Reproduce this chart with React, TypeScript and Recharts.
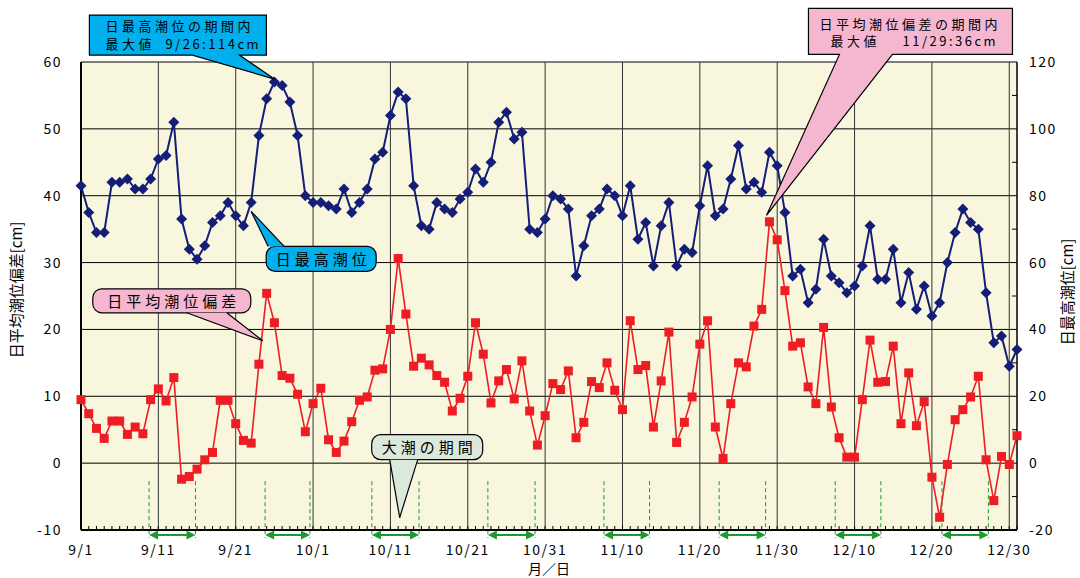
import { LineChart, Line, XAxis, YAxis, CartesianGrid, ReferenceLine, ReferenceDot } from "recharts";

// 日最高潮位 [cm] (right axis), 9/1 .. 12/31
const maxTide = [
  83, 75, 69, 69, 84, 84, 85, 82, 82, 85, 91, 92, 102, 73, 64, 61, 65, 72, 74, 78, 74, 71, 78, 98, 109, 114, 113, 108, 98, 80,
  78, 78, 77, 76, 82, 75, 78, 82, 91, 93, 104, 111, 109, 83, 71, 70, 78, 76, 75, 79, 81, 88, 84, 90, 102, 105, 97, 99, 70, 69,
  73, 80, 79, 76, 56, 65, 74, 76, 82, 80, 74, 83, 67, 72, 59, 71, 78, 59, 64, 63, 77, 89, 74, 76, 85, 95, 82, 84, 81, 93,
  89, 75, 56, 58, 48, 52, 67, 56, 54, 51, 53, 59, 71, 55, 55, 64, 48, 57, 46, 53, 44, 48, 60, 69, 76, 72, 70, 51, 36, 38, 29, 34,
];

// 日平均潮位偏差 [cm] (left axis)
const meanAnomaly = [
  9.5, 7.4, 5.2, 3.7, 6.3, 6.3, 4.3, 5.4, 4.4, 9.5, 11.1, 9.3, 12.8, -2.4, -2.0, -0.9, 0.5, 1.6, 9.4, 9.4, 5.9, 3.4, 3.0, 14.8, 25.4, 21.0, 13.1, 12.7, 10.3, 4.7,
  8.9, 11.2, 3.5, 1.6, 3.3, 6.2, 9.4, 9.9, 13.9, 14.1, 20.0, 30.6, 22.3, 14.5, 15.7, 14.7, 13.1, 12.1, 7.8, 9.7, 13.0, 21.0, 16.3, 9.0, 12.3, 14.0, 9.6, 15.3, 7.8, 2.7,
  7.1, 11.9, 11.0, 13.8, 3.8, 6.1, 12.2, 11.3, 15.0, 10.9, 8.0, 21.3, 14.0, 14.6, 5.4, 12.3, 19.6, 3.1, 6.1, 9.9, 17.8, 21.3, 5.4, 0.7, 8.9, 15.0, 14.4, 20.5, 23.0, 36.1,
  33.4, 25.8, 17.5, 18.0, 11.4, 8.9, 20.3, 8.4, 3.8, 0.9, 0.9, 9.5, 18.4, 12.1, 12.2, 17.5, 5.9, 13.5, 5.6, 9.2, -2.1, -8.1, -0.2, 6.5, 8.0, 9.9, 13.0, 0.5, -5.6, 1.0, -0.2, 4.1,
];

const dateLabels = ["9/1", "9/11", "9/21", "10/1", "10/11", "10/21", "10/31", "11/10", "11/20", "11/30", "12/10", "12/20", "12/30"];

// 大潮の期間 (start, end in days from 9/1)
const springTides = [
  [8.8, 14.8], [23.8, 29.6], [37.6, 43.7], [52.6, 58.7],
  [67.6, 73.5], [82.5, 88.5], [97.5, 103.4], [111.3, 117.3],
];

const leftTicks = [-10, 0, 10, 20, 30, 40, 50, 60];
const rightTicks = [-20, -10, 0, 10, 20, 30, 40, 50, 60, 70, 80, 90, 100, 110, 120];

const rows = maxTide.map((v, i) => ({ day: i, maxTide: v, anomaly: meanAnomaly[i] }));
const dayTicks = rows.map((r) => r.day);

const FONT = "'Noto Sans CJK JP', 'Noto Sans', sans-serif";
const NAVY = "#141d78";
const RED = "#ee1d23";
const GREEN = "#1c9a2e";

const Diamond = ({ cx, cy }: any) => (
  <polygon points={`${cx},${cy - 5.5} ${cx + 5.5},${cy} ${cx},${cy + 5.5} ${cx - 5.5},${cy}`} fill={NAVY} />
);

const Square = ({ cx, cy }: any) => <rect x={cx - 4.5} y={cy - 4.5} width={9} height={9} fill={RED} />;

const DayTick = ({ x, y, payload }: any) => {
  const d = payload.value;
  const label = d % 10 === 0 ? dateLabels[d / 10] : null;
  return (
    <g>
      <line x1={x} x2={x} y1={y} y2={y - 4} stroke="#000" />
      {label && (
        <text x={x} y={y + 25} textAnchor="middle" fontSize={14} letterSpacing={1.5} fontFamily={FONT} fill="#000">
          {label}
        </text>
      )}
    </g>
  );
};

const RightTick = ({ x, y, payload }: any) => {
  const v = payload.value;
  if (v % 20 !== 0) return <line x1={x - 5} x2={x} y1={y} y2={y} stroke="#000" />;
  return (
    <text x={x + 12} y={y + 5} fontSize={14} letterSpacing={1.5} fontFamily={FONT} fill="#000">
      {v}
    </text>
  );
};

const TideArrow = ({ x1, x2, y1 }: any) => (
  <g>
    <line x1={x1 + 6} x2={x2 - 6} y1={y1} y2={y1} stroke={GREEN} strokeWidth={2} />
    <polygon points={`${x1},${y1} ${x1 + 9},${y1 - 4.5} ${x1 + 9},${y1 + 4.5}`} fill={GREEN} />
    <polygon points={`${x2},${y1} ${x2 - 9},${y1 - 4.5} ${x2 - 9},${y1 + 4.5}`} fill={GREEN} />
  </g>
);

const textStyle = { fontFamily: FONT, fontSize: 13, letterSpacing: 3.5, fill: "#000" };

// top-left: 日最高潮位の期間内最大値 (tip slightly above point)
const MaxTideCallout = ({ cx, cy }: any) => {
  const tx = cx;
  const ty = cy - 3;
  const x0 = tx - 185, x1 = tx - 8, y0 = ty - 64, y1 = ty - 24;
  return (
    <g>
      <path
        d={`M${x0},${y0} H${x1} V${y1} H${tx - 35} L${tx},${ty} L${tx - 82},${y1} H${x0} Z`}
        fill="#00b0ec"
        stroke="#000"
        strokeWidth={1.2}
      />
      <text x={x0 + 16} y={y0 + 16} {...textStyle}>日最高潮位の期間内</text>
      <text x={x0 + 16} y={y0 + 34} {...textStyle}>最大値</text>
      <text x={x0 + 76} y={y0 + 34} {...textStyle} letterSpacing={2.5}>9/26:114cm</text>
    </g>
  );
};

// top-right: 日平均潮位偏差の期間内最大値
const MaxAnomalyCallout = ({ cx, cy }: any) => {
  const tx = cx - 3;
  const ty = cy - 7;
  const x0 = tx + 42, x1 = tx + 246, y0 = ty - 207, y1 = ty - 161;
  return (
    <g>
      <path
        d={`M${x0},${y0} H${x1} V${y1} H${tx + 126} L${tx},${ty} L${tx + 73},${y1} H${x0} Z`}
        fill="#f5b6d0"
        stroke="#000"
        strokeWidth={1.2}
      />
      <text x={x0 + 11} y={y0 + 21} {...textStyle}>日平均潮位偏差の期間内</text>
      <text x={x0 + 22} y={y0 + 38} {...textStyle}>最大値</text>
      <text x={x0 + 94} y={y0 + 38} {...textStyle} letterSpacing={2.5}>11/29:36cm</text>
    </g>
  );
};

const RoundCallout = ({ tx, ty, box, base, fill, label }: any) => {
  const [x0, y0, x1, y1] = box;
  const onTop = base[2] === "top";
  const by = onTop ? ty + y0 : ty + y1;
  return (
    <g>
      <rect x={tx + x0} y={ty + y0} width={x1 - x0} height={y1 - y0} rx={9} fill={fill} stroke="#000" strokeWidth={1.2} />
      <polygon points={`${tx + base[0]},${by} ${tx},${ty} ${tx + base[1]},${by}`} fill={fill} />
      <line x1={tx + base[0]} y1={by} x2={tx} y2={ty} stroke="#000" strokeWidth={1.2} />
      <line x1={tx + base[1]} y1={by} x2={tx} y2={ty} stroke="#000" strokeWidth={1.2} />
      <text
        x={tx + (x0 + x1) / 2 + 2}
        y={ty + (y0 + y1) / 2 + 6}
        textAnchor="middle"
        {...textStyle}
        fontSize={15}
        letterSpacing={4}
      >
        {label}
      </text>
    </g>
  );
};

const MaxTideLabel = ({ cx, cy }: any) => (
  <RoundCallout tx={cx} ty={cy + 9} box={[15, 35, 125, 60]} base={[17, 33, "top"]} fill="#00b0ec" label="日最高潮位" />
);

const AnomalyLabel = ({ cx, cy }: any) => (
  <RoundCallout tx={cx} ty={cy} box={[-170, -52, -12, -28]} base={[-76, -36, "bottom"]} fill="#f5b6d0" label="日平均潮位偏差" />
);

const SpringLabel = ({ cx, cy }: any) => (
  <RoundCallout tx={cx} ty={cy} box={[-28, -83, 83, -58]} base={[-10, 18, "bottom"]} fill="#dbe8dc" label="大潮の期間" />
);

const App = () => {
  return (
    <div style={{ position: "absolute", left: 0, top: 0 }}>
      <LineChart width={1080} height={578} data={rows} margin={{ top: 62, right: 0, bottom: 18, left: 0 }}>
        <CartesianGrid yAxisId="left" vertical={false} stroke="#000" fill="#f8f6dc" fillOpacity={1} />
        {dateLabels.map((_, k) => (
          <ReferenceLine key={`g${k}`} yAxisId="left" x={k * 10} stroke="#333" strokeWidth={1} />
        ))}
        <XAxis
          type="number"
          dataKey="day"
          domain={[0, 121]}
          ticks={dayTicks}
          interval={0}
          height={30}
          tickSize={0}
          tickMargin={0}
          tick={<DayTick />}
          axisLine={{ stroke: "#000", strokeWidth: 2 }}
          label={{
            content: () => (
              <text x={549} y={574} textAnchor="middle" fontFamily={FONT} fontSize={14} fill="#000">
                月／日
              </text>
            ),
          }}
        />
        <YAxis
          yAxisId="left"
          domain={[-10, 60]}
          ticks={leftTicks}
          width={81}
          tickSize={0}
          tickMargin={19}
          tickLine={false}
          tick={{ fontSize: 14, fontFamily: FONT, fill: "#000", letterSpacing: 1.5 }}
          axisLine={{ stroke: "#000", strokeWidth: 2 }}
          label={{
            content: () => (
              <text x={22} y={290} transform="rotate(-90 22 290)" textAnchor="middle" fontFamily={FONT} fontSize={15} fill="#000">
                日平均潮位偏差[cm]
              </text>
            ),
          }}
        />
        <YAxis
          yAxisId="right"
          orientation="right"
          domain={[-20, 120]}
          ticks={rightTicks}
          width={63}
          tickSize={0}
          tickMargin={0}
          tickLine={false}
          tick={<RightTick />}
          axisLine={{ stroke: "#000", strokeWidth: 1.5 }}
          label={{
            content: () => (
              <text x={1073} y={292} transform="rotate(-90 1073 292)" textAnchor="middle" fontFamily={FONT} fontSize={15} fill="#000">
                日最高潮位[cm]
              </text>
            ),
          }}
        />
        {springTides.map(([s, e], k) => (
          <ReferenceLine
            key={`ds${k}`}
            yAxisId="left"
            segment={[{ x: s, y: -2.7 }, { x: s, y: -11.2 }]}
            stroke={GREEN}
            strokeDasharray="4 3"
            ifOverflow="visible"
          />
        ))}
        {springTides.map(([s, e], k) => (
          <ReferenceLine
            key={`de${k}`}
            yAxisId="left"
            segment={[{ x: e, y: -2.7 }, { x: e, y: -11.2 }]}
            stroke={GREEN}
            strokeDasharray="4 3"
            ifOverflow="visible"
          />
        ))}
        {springTides.map(([s, e], k) => (
          <ReferenceLine
            key={`a${k}`}
            yAxisId="left"
            segment={[{ x: s, y: -10.75 }, { x: e, y: -10.75 }]}
            ifOverflow="visible"
            shape={TideArrow}
          />
        ))}
        <Line
          yAxisId="left"
          dataKey="anomaly"
          stroke={RED}
          strokeWidth={1.6}
          dot={(p: any) => <Square key={`s${p.index}`} {...p} />}
          isAnimationActive={false}
        />
        <Line
          yAxisId="right"
          dataKey="maxTide"
          stroke={NAVY}
          strokeWidth={2}
          dot={(p: any) => <Diamond key={`d${p.index}`} {...p} />}
          isAnimationActive={false}
        />
        <ReferenceDot yAxisId="right" x={25} y={114} ifOverflow="visible" shape={MaxTideCallout} />
        <ReferenceDot yAxisId="left" x={89} y={36} ifOverflow="visible" shape={MaxAnomalyCallout} />
        <ReferenceDot yAxisId="right" x={22} y={78} ifOverflow="visible" shape={MaxTideLabel} />
        <ReferenceDot yAxisId="left" x={23.5} y={18.3} ifOverflow="visible" shape={AnomalyLabel} />
        <ReferenceDot yAxisId="left" x={41.2} y={-8.15} ifOverflow="visible" shape={SpringLabel} />
      </LineChart>
    </div>
  );
};

export default App;
